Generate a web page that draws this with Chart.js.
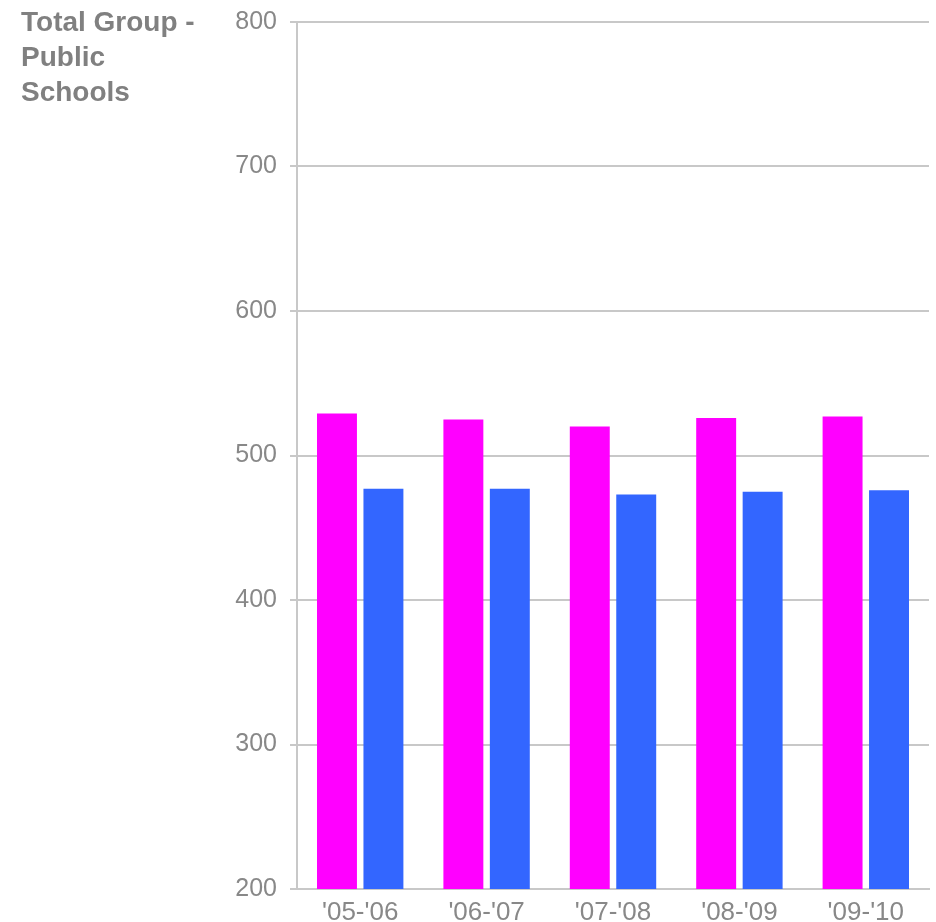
<!DOCTYPE html>
<html>
<head>
<meta charset="utf-8">
<script src="https://cdn.jsdelivr.net/npm/chart.js@4.4.1/dist/chart.umd.min.js"></script>
<style>
  html, body { margin: 0; padding: 0; background: #fff; }
  #wrap { position: relative; width: 936px; height: 922px; }
  #title {
    position: absolute; left: 21px; top: 4px;
    font-family: "Liberation Sans", Arial, sans-serif;
    font-weight: bold; font-size: 28px; line-height: 35px;
    color: #808080;
  }
</style>
</head>
<body>
<div id="wrap">
  <canvas id="chart" width="936" height="922"></canvas>
  <div id="title">Total Group -<br>Public<br>Schools</div>
</div>
<script>
// values
var years = ["'05-'06", "'06-'07", "'07-'08", "'08-'09", "'09-'10"];
var seriesPink = [529, 525, 520, 526, 527];
var seriesBlue = [477, 477, 473, 475, 476];
var yTicks = [200, 300, 400, 500, 600, 700, 800];

var fontFamily = "'Liberation Sans', Arial, sans-serif";
var gridGrey = '#c8c8c8';

var ctx = document.getElementById('chart').getContext('2d');

var myChart = new Chart(ctx, {
	type: 'bar',
	data: {
		labels: years,
		datasets: [{
			data: seriesPink,
			backgroundColor: '#ff00ff',
			borderWidth: 0
		}, {
			data: seriesBlue,
			backgroundColor: '#3366ff',
			borderWidth: 0
		}]
	},
	options: {
		responsive: false,
		animation: false,
		layout: { padding: { top: 22, right: 7, bottom: 0, left: 0 } },
		categoryPercentage: 0.735,
		barPercentage: 0.86,
		plugins: {
			legend: { display: false },
			tooltip: { enabled: false }
		},
		scales: {
			x: {
				grid: { display: false },
				border: { display: true, color: gridGrey, width: 2 },
				ticks: { color: '#888', font: { family: fontFamily, size: 26 }, padding: 0 },
				afterFit: function(scale) { scale.height = 33; }
			},
			y: {
				min: 200,
				max: 800,
				afterBuildTicks: function(scale) {
					scale.ticks = yTicks.map(function(v) { return { value: v }; });
				},
				grid: { color: gridGrey, lineWidth: 2, tickLength: 7 },
				border: { display: true, color: gridGrey, width: 2 },
				ticks: { color: '#888', font: { family: fontFamily, size: 25 }, padding: 13 },
				afterFit: function(scale) {
					scale.width = 297;
					// let the layout padding alone decide where the plot starts
					scale.paddingTop = 0;
					scale.paddingBottom = 0;
				}
			}
		}
	}
});
</script>
</body>
</html>
